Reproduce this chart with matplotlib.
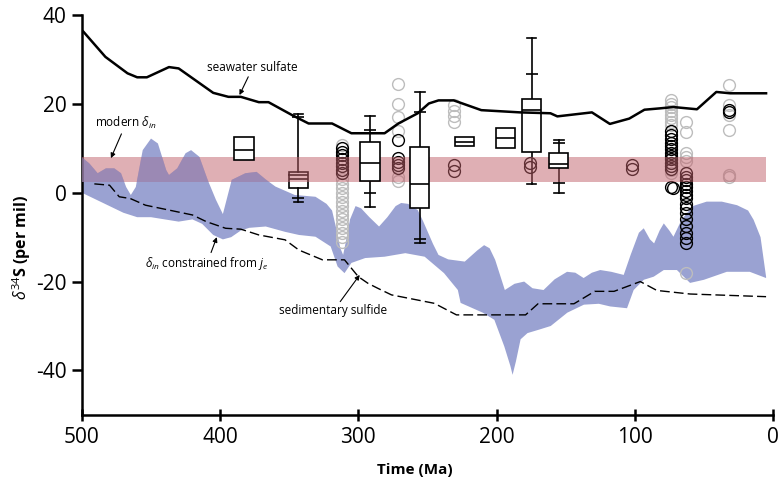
import numpy as np
import matplotlib
matplotlib.use("Agg")
import matplotlib.pyplot as plt
from matplotlib.patches import Rectangle

plt.rcParams['font.family'] = ['Open Sans', 'DejaVu Sans']
plt.rcParams['mathtext.fontset'] = 'custom'
plt.rcParams['mathtext.rm'] = 'Open Sans'
plt.rcParams['mathtext.it'] = 'Open Sans:italic'
plt.rcParams['mathtext.bf'] = 'Open Sans:bold'
plt.rcParams['axes.unicode_minus'] = False

# seawater sulfate curve
sw_t = [499, 483, 467, 460, 453, 437, 430, 415, 405, 394, 385, 372, 365, 348, 336, 319,
        305, 281, 271, 257, 249, 242, 231, 211, 183, 161, 156, 131, 118, 104, 93, 82, 72,
        55, 41, 31, 5]
sw_v = [36.3, 30.6, 26.9, 26, 26, 28.3, 28, 24.7, 22.5, 21.6, 21.6, 20.4, 20.4, 17.5, 15.6,
        15.6, 13.4, 13.4, 15.6, 17.9, 20.1, 20.8, 20.8, 18.6, 18.1, 17.9, 17.2, 18.1, 15.5,
        16.7, 18.7, 19, 19.3, 18.8, 22.7, 22.4, 22.4]

# sedimentary sulfide curve
sed_t = [491, 480, 473, 465, 454, 420, 410, 396, 385, 372, 353, 343, 326, 310, 300, 293,
         286, 276, 245, 229, 179, 170, 144, 129, 115, 96, 84, 60, 5]
sed_v = [2, 1.7, -0.9, -1.3, -2.8, -5, -6.5, -8, -8.2, -9.5, -10.6, -12.9, -15.1, -15.1,
         -18.9, -20.4, -21.5, -23, -24.9, -27.5, -27.5, -25, -25, -22.2, -22.2, -20, -22,
         -22.8, -23.4]

# delta_in band constrained from j_e (upper / lower edge)
up_t = [500, 494.6, 488.6, 482.6, 476.6, 471.7, 468, 464.6, 461, 456, 450, 445, 439, 437,
        431, 425, 421, 415, 409, 403, 398, 391.6, 381.7, 373.6, 367, 360, 346, 331, 323,
        319, 316, 313, 311, 309, 306, 302, 298, 292, 285, 279, 273, 269, 264, 257, 253,
        246, 242, 235, 223, 214, 209, 205, 201, 194, 187, 180, 174, 166, 158, 149, 143,
        137, 131, 125, 117, 108, 103, 97, 93.5, 89, 86, 82, 79, 75, 72, 66, 58, 48, 37,
        26, 18, 14, 9, 5]
up_v = [8, 6.6, 4.4, 5.5, 5.5, 4.4, 1.3, -0.5, 1.3, 9.6, 12.2, 11.1, 5.1, 4, 5.5, 8.9,
        9.6, 8.1, 2.9, -1.6, -4.8, 2.9, 4.4, 4.7, 3, 1.4, -0.5, -0.9, -2.5, -4, -8, -12.5,
        -14, -11, -6, -3, -3.5, -5.5, -7.6, -5.5, -3, -2.3, -2.5, -3.9, -6.5, -11.5, -14,
        -15, -15.5, -13, -11.8, -12.5, -15.1, -21.9, -20.5, -20, -21.5, -21.9, -19.5,
        -17.8, -18, -19.2, -18, -17.4, -17.8, -18.5, -14, -9, -8, -10.5, -11.4, -8.5,
        -6.9, -8.5, -9.9, -6, -3, -2, -2, -2.8, -4, -6.1, -10, -18.9]
lo_t = [500, 490, 480, 470, 460, 450, 440, 430, 420, 413, 405, 398, 392, 385, 379, 367,
        353, 343, 331, 320, 315, 310, 305, 295, 281, 266, 252, 238, 228, 226, 210, 201.6,
        194.4, 190, 188.4, 186, 182.6, 177.6, 169, 160.8, 148.8, 136.8, 126, 117.8, 105.6,
        100.8, 93.5, 86.3, 79, 69.5, 60, 50, 33.4, 16.8, 5]
lo_v = [0, -1.5, -3, -4.5, -5.5, -5.5, -6, -6.5, -6, -7, -9.5, -10.5, -10, -8.5, -7.9,
        -7.6, -8.8, -9.5, -9.9, -12.1, -16.6, -18.1, -15.8, -14.7, -14.4, -13.6, -14.4,
        -18.1, -21.9, -24.8, -27, -28.6, -34.6, -39, -41, -38, -33, -31.6, -30.8, -30,
        -27, -25.2, -25, -25.6, -26, -21.9, -19.6, -18.9, -17.4, -17.4, -20.3, -19.6,
        -17.8, -17.8, -19.2]

# modern delta_in range
modern_lo, modern_hi = 2.5, 8

# box plots
box_t = [382.6, 343.3, 291.6, 255.6, 223.2, 193.7, 174.7, 155]
box_q1 = [7.3, 1.0, 2.7, -3.4, 10.6, 10.1, 9.1, 5.6]
box_med = [9.6, 3.1, 6.7, 2.0, 11.5, 12.4, 18.7, 6.4]
box_q3 = [12.6, 4.7, 11.5, 10.3, 12.6, 14.5, 21.2, 8.9]
whisk_lo = [7.3, -2.0, -3.3, -11.4, 10.6, 10.1, 2.0, -0.1]
whisk_hi = [12.6, 17.8, 17.2, 22.6, 12.6, 14.5, 34.8, 11.8]
tick_lo = [np.nan, -1.1, -0.1, -10.5, np.nan, np.nan, np.nan, 2.2]
tick_hi = [np.nan, 17.0, 14.2, 18.2, np.nan, np.nan, 26.8, 11.2]

# individual measurements
circ_t = [312, 271, 231, 176, 102, 74, 72, 63, 32]
black_v = [[10, 9.2, 8.4, 7.6, 6.8, 6, 5.2, 4.4],
           [11.8, 7.8, 7, 6.3, 5.5],
           [6.2, 4.8],
           [6.6, 5.8],
           [6.2, 5.4],
           [14, 13, 12, 11.2, 10.5, 9.8, 9, 8.2, 7.5, 6.8, 6.1, 5.4, 1.3],
           [1.0],
           [4.4, 3.6, 2.8, 2, 1.2, 0.4, -0.4, -1.2, -2.5, -3.5, -4.5, -6, -7.5, -9, -10.2, -11.4],
           [18.6, 18.2]]
gray_v = [[10.7, 3, 2, 1, 0, -1, -2, -3, -4, -5, -6, -7, -8, -9, -10, -11],
          [24.4, 20, 17, 13.8, 3.6, 2.6],
          [19.7, 18.4, 17.2, 15.9],
          [],
          [],
          [20.8, 20, 19.2, 18.4, 17.6, 16.8, 16, 15.2, 7.6, 6.8, 6, 5.2, 4.4],
          [],
          [16, 13.7, 8.9, 8, 7.2, -18],
          [24.2, 19.7, 17.5, 14.1, 4, 3.6]]

fig = plt.figure(figsize=(7.8, 4.88), dpi=100)
ax = fig.add_axes([0.105, 0.150, 0.886, 0.819])

band_x = np.concatenate([up_t, lo_t[::-1]])
band_y = np.concatenate([up_v, lo_v[::-1]])

# blue band
ax.fill(band_x, band_y, color='#9aa2d2', lw=0, zorder=1)

# circles
for t, bv, gv in zip(circ_t, black_v, gray_v):
    ax.plot([t] * len(gv), gv, 'o', mfc='none', mec='#bdbdbd', ms=8.5, mew=1, zorder=2)
    ax.plot([t] * len(bv), bv, 'o', mfc='none', mec='k', ms=8.5, mew=1, zorder=2.1)

# whiskers + boxes
for i in range(len(box_t)):
    st = dict(med=box_med[i], q1=box_q1[i], q3=box_q3[i],
              whislo=whisk_lo[i], whishi=whisk_hi[i], fliers=[])
    has_wh = whisk_lo[i] < box_q1[i]
    behind = (i == 1)
    ax.bxp([st], positions=[box_t[i]], widths=14, capwidths=7,
           patch_artist=True, showcaps=has_wh, showfliers=False, manage_ticks=False,
           boxprops=dict(facecolor='none' if behind else 'white', edgecolor='k', lw=1.2,
                         zorder=2.5 if behind else 4),
           medianprops=dict(color='k', lw=1.2, zorder=2.6 if behind else 4.1),
           whiskerprops=dict(color='k', lw=1.2, zorder=2.4),
           capprops=dict(color='k', lw=1.2, zorder=2.4))
ax.plot(box_t, tick_lo, '_', color='k', ms=8, mew=1.2, zorder=2.4)
ax.plot(box_t, tick_hi, '_', color='k', ms=8, mew=1.2, zorder=2.4)
ax.plot([box_t[1]], [4.0], '_', color='k', ms=14, mew=1.2, zorder=2.6)

# modern delta_in band, with the overlap tinted toward the blue
ax.fill_between([500, 5], modern_lo, modern_hi, color='#c0606a', alpha=0.5, lw=0, zorder=3)
clip = Rectangle((5, modern_lo), 495, modern_hi - modern_lo, transform=ax.transData)
over, = ax.fill(band_x, band_y, color='#8a93cc', alpha=0.5, lw=0, zorder=3.1)
over.set_clip_path(clip)

ax.plot(sw_t, sw_v, color='k', lw=1.8, zorder=5)
ax.plot(sed_t, sed_v, color='k', lw=1, dashes=(7, 3), zorder=5)

arw = dict(arrowstyle='-|>', color='k', lw=0.8, mutation_scale=7, shrinkA=0, shrinkB=0)
ax.annotate('seawater sulfate', xy=(386, 22), xytext=(376.4, 28.2), fontsize=8.5,
            ha='center', va='center', arrowprops=arw, zorder=6)
ax.annotate(r'modern $\delta_{in}$', xy=(479, 7.8), xytext=(468, 15.7), fontsize=8.5,
            ha='center', va='center', arrowprops=arw, zorder=6)
ax.annotate(r'$\delta_{in}$ constrained from $j_e$', xy=(402.4, -10), xytext=(409.6, -16),
            fontsize=8.5, ha='center', va='center', arrowprops=arw, zorder=6)
ax.annotate('sedimentary sulfide', xy=(299, -18.5), xytext=(318, -26.6), fontsize=8.5,
            ha='center', va='center', arrowprops=arw, zorder=6)

ax.set_xlim(500, 0)
ax.set_ylim(-50, 40)
ax.set_xticks([500, 400, 300, 200, 100, 0])
ax.set_yticks([-40, -20, 0, 20, 40])
for s in ['top', 'right']:
    ax.spines[s].set_visible(False)
for s in ['left', 'bottom']:
    ax.spines[s].set_linewidth(1.8)
ax.tick_params(axis='y', direction='out', length=7, width=1.8, labelsize=15, pad=4)
ax.tick_params(axis='x', direction='inout', length=9, width=1.8, labelsize=15, pad=4)

fig.text(415 / 780, 1 - 470 / 488, 'Time (Ma)', fontsize=11, fontweight='bold',
         ha='center', va='center')
fig.text(22 / 780, 1 - 247 / 488, r'$\delta^{34}$S (per mil)', fontsize=11.5,
         fontweight='bold', rotation=90, ha='center', va='center')

fig.savefig('out.png', dpi=100)
